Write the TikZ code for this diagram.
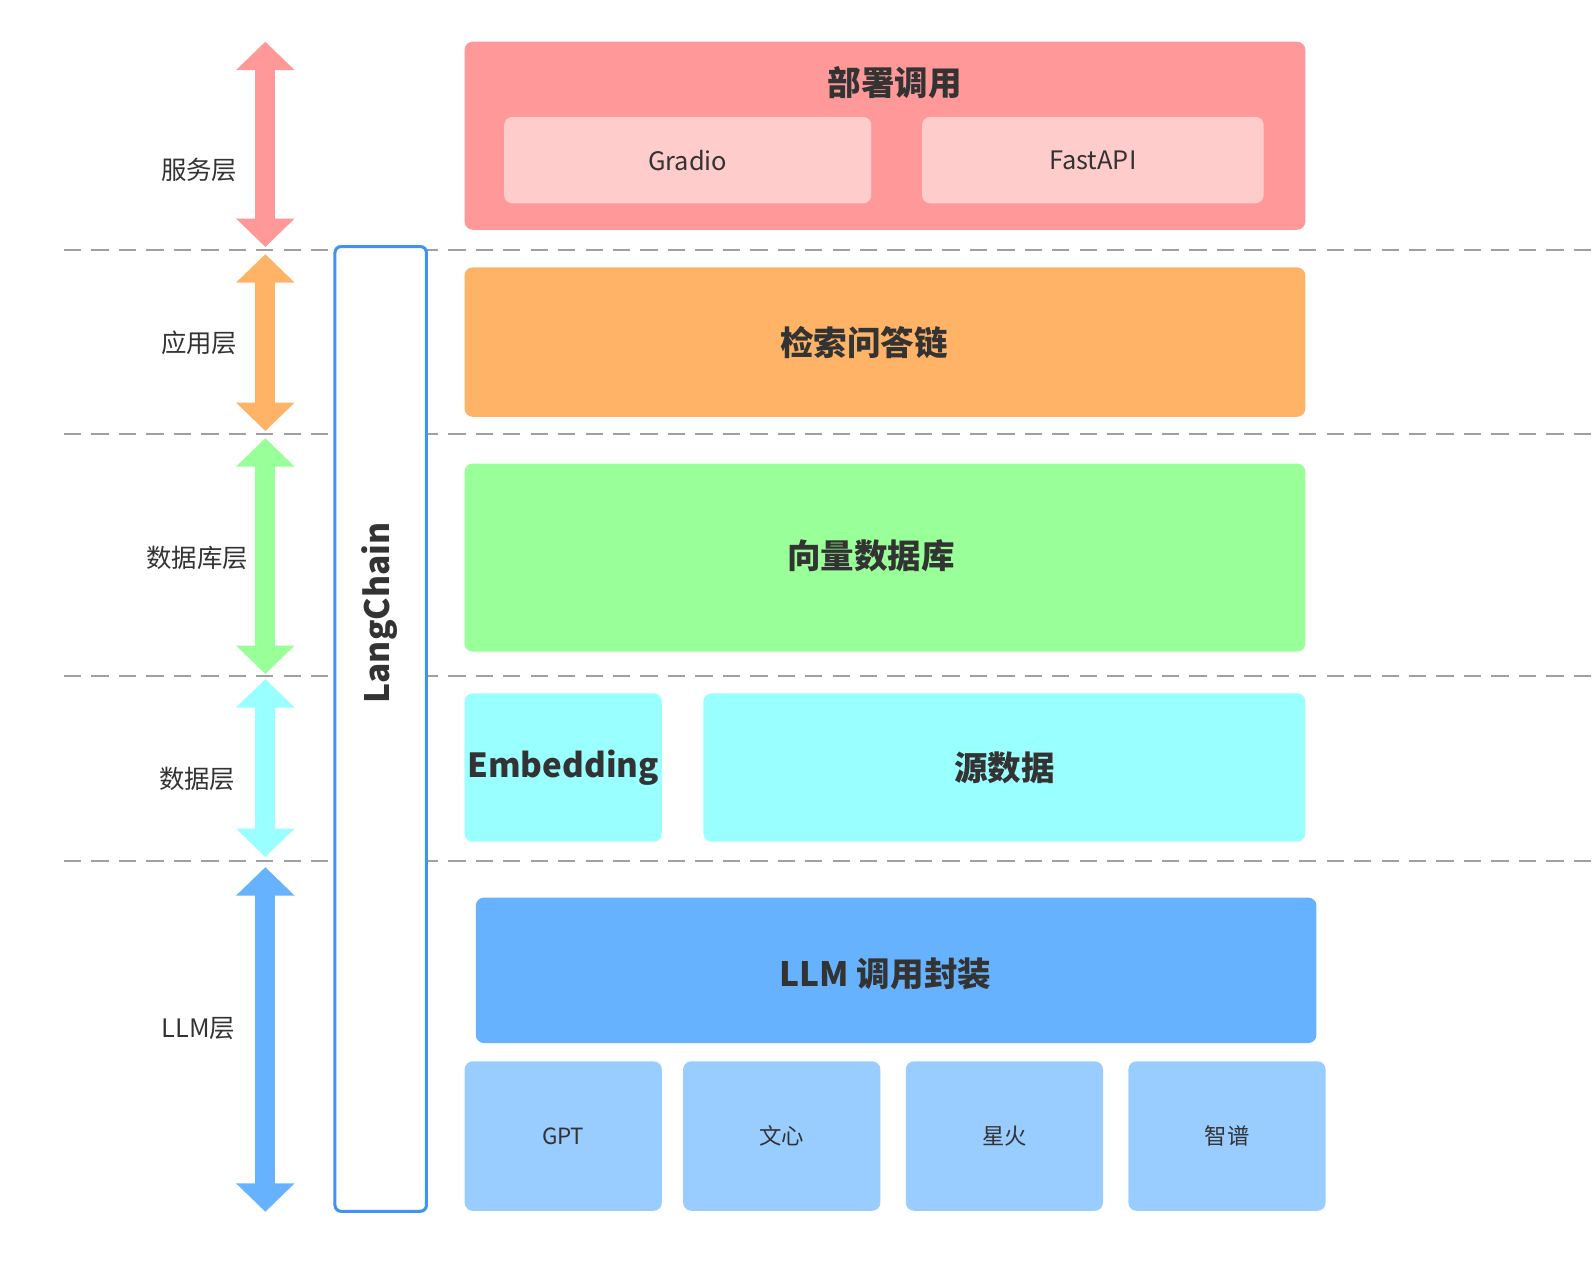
\documentclass[tikz,border=0pt]{standalone}
\usepackage{fontspec}
\setmainfont{Noto Sans CJK SC}
\usetikzlibrary{positioning, arrows.meta}

\definecolor{rosa}{HTML}{FF9999}
\definecolor{rosa_claro}{HTML}{FFCCCC}
\definecolor{naranja}{HTML}{FFB366}
\definecolor{verde}{HTML}{99FF99}
\definecolor{cian}{HTML}{99FFFF}
\definecolor{azul}{HTML}{66B2FF}
\definecolor{azul_claro}{HTML}{99CCFF}
\definecolor{borde_lc}{HTML}{4094F0}
\definecolor{texto}{HTML}{333333}
\definecolor{guion}{HTML}{A0A0A0}

\begin{document}
\begin{tikzpicture}[
		x=0.5pt, y=-0.5pt,
		% Estilos de las cajas de cada capa
		capa/.style={rectangle, rounded corners=4pt, inner sep=0pt, outer sep=0pt, anchor=north west, align=center, text=texto, font=\bfseries\fontsize{16.5}{19}\selectfont},
		sub_capa/.style={rectangle, rounded corners=4pt, inner sep=0pt, outer sep=0pt, anchor=north west, align=center, text=texto, font=\fontsize{12.5}{15}\selectfont},
		modelo/.style={rectangle, rounded corners=4pt, fill=azul_claro, inner sep=0pt, outer sep=0pt, minimum width=97pt, minimum height=73.5pt, text=texto, font=\fontsize{11}{13}\selectfont},
		% Títulos de capa y etiquetas laterales
		titulo/.style={text=texto, font=\bfseries\fontsize{16.5}{19}\selectfont, inner sep=0pt},
		capa_label/.style={text=texto, font=\fontsize{12.5}{15}\selectfont, inner sep=0pt},
		% Flechas y separadores
		flecha_capa/.style={line width=10pt, {Triangle[width=28pt, length=14pt]}-{Triangle[width=28pt, length=14pt]}},
		separador/.style={draw=guion, line width=1pt, dash pattern=on 8.5pt off 5pt}
		]
		\useasboundingbox (0,0) rectangle (1568,1244);
		
		% --- SEPARADORES DE CAPA ---
		\draw[separador] (63,246) -- (1568,246);
		\draw[separador] (63,427) -- (1568,427);
		\draw[separador] (63,665) -- (1568,665);
		\draw[separador] (63,847) -- (1568,847);
		
		% --- MARCO LANGCHAIN ---
		\node[draw=borde_lc, line width=1.5pt, fill=white, rectangle, rounded corners=3pt, anchor=north west, minimum width=45pt, minimum height=474.5pt] (langchain) at (328,241) {};
		\node[titulo, rotate=90] (langchain_txt) at (373,603) {LangChain};
		
		% --- FLECHAS Y ETIQUETAS LATERALES ---
		\coordinate (serv_sup) at (261,41);   \coordinate (serv_inf) at (261,243);
		\coordinate (apl_sup) at (261,250);   \coordinate (apl_inf) at (261,424);
		\coordinate (bd_sup) at (261,431);    \coordinate (bd_inf) at (261,663);
		\coordinate (dat_sup) at (261,668);   \coordinate (dat_inf) at (261,843);
		\coordinate (llm_sup) at (261,853);   \coordinate (llm_inf) at (261,1192);
		
		\draw[flecha_capa, draw=rosa, fill=rosa] (serv_sup) -- (serv_inf);
		\draw[flecha_capa, draw=naranja, fill=naranja] (apl_sup) -- (apl_inf);
		\draw[flecha_capa, draw=verde, fill=verde] (bd_sup) -- (bd_inf);
		\draw[flecha_capa, draw=cian, fill=cian] (dat_sup) -- (dat_inf);
		\draw[flecha_capa, draw=azul, fill=azul] (llm_sup) -- (llm_inf);
		
		\node[capa_label] (lbl_serv) at (196,167) {服务层};
		\node[capa_label] (lbl_apl) at (196,337) {应用层};
		\node[capa_label] (lbl_bd) at (194,549) {数据库层};
		\node[capa_label] (lbl_dat) at (194,766) {数据层};
		\node[capa_label] (lbl_llm) at (195,1012) {LLM层};
		
		% --- CAPA DE SERVICIO ---
		\node[capa, fill=rosa, minimum width=413.5pt, minimum height=92.5pt] (servicio) at (457,41) {};
		\node[titulo] (servicio_tit) at (880,81) {部署调用};
		\node[sub_capa, fill=rosa_claro, minimum width=180.5pt, minimum height=42.5pt] (gradio) at (496,115) {Gradio};
		\node[sub_capa, fill=rosa_claro, minimum width=168pt, minimum height=42.5pt] (fastapi) at (907,115) {FastAPI};
		
		% --- CAPA DE APLICACIÓN ---
		\node[capa, fill=naranja, minimum width=413.5pt, minimum height=73.5pt] (cadena) at (457,263) {};
		\node[titulo] (cadena_tit) at (850,337) {检索问答链};
		
		% --- CAPA DE BASE DE DATOS ---
		\node[capa, fill=verde, minimum width=413.5pt, minimum height=92.5pt] (vectorial) at (457,456) {};
		\node[titulo] (vectorial_tit) at (857,547) {向量数据库};
		
		% --- CAPA DE DATOS ---
		\node[capa, fill=cian, minimum width=97pt, minimum height=73pt, font=\bfseries\fontsize{16.3}{19}\selectfont] (embedding) at (457,682) {Embedding};
		\node[capa, fill=cian, minimum width=296pt, minimum height=73pt] (fuente) at (692,682) {源数据};
		
		% --- CAPA LLM ---
		\node[capa, fill=azul, minimum width=413.5pt, minimum height=71.5pt] (llm) at (468,883) {};
		\node[titulo] (llm_tit) at (871,958) {LLM 调用封装};
		\node[modelo, anchor=north west] (gpt) at (457,1044) {GPT};
		\node[modelo, right=10.5pt of gpt] (wenxin) {文心};
		\node[modelo, right=12.5pt of wenxin] (xinghuo) {星火};
		\node[modelo, right=12.5pt of xinghuo] (zhipu) {智谱};
		
	\end{tikzpicture}
\end{document}
